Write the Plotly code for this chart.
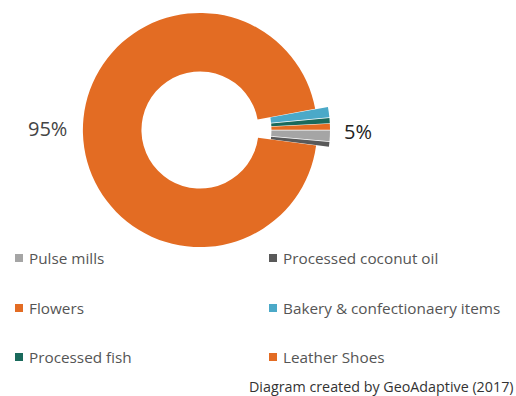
import plotly.graph_objects as go

# Sector shares (%) in slice order, clockwise starting near 3 o'clock
labels = ["Pulse mills", "Processed coconut oil", "Flowers",
          "Bakery & confectionaery items", "Processed fish", "Leather Shoes"]
values = [1.45, 0.65, 95.0, 1.4, 0.7, 0.8]
colors = ["#a5a5a5", "#595959", "#e36c23", "#4ba9c8", "#1a6a5c", "#e36c23"]
pulls = [0.11, 0.11, 0.0, 0.11, 0.11, 0.11]

big_label = "95%"
small_label = "5%"
source_note = "Diagram created by GeoAdaptive (2017)"

W, H = 516, 396
FONT = "Open Sans, Noto Sans, sans-serif"


def px_x(x):
    return x / W


def px_y(y):
    return 1 - y / H


fig = go.Figure()
fig.add_trace(go.Pie(
    labels=labels,
    values=values,
    sort=False,
    direction="clockwise",
    rotation=90,
    hole=0.5,
    pull=pulls,
    marker=dict(colors=colors, line=dict(width=0)),
    textinfo="none",
    hoverinfo="label+percent",
    showlegend=False,
    domain=dict(x=[px_x(200 - 130), px_x(200 + 130)], y=[px_y(260), 1.0]),
))

annotations = [
    dict(text=big_label, x=px_x(47), y=px_y(128), xref="paper", yref="paper",
         xanchor="center", yanchor="middle", showarrow=False,
         font=dict(family=FONT, size=20, color="#444444")),
    dict(text=small_label, x=px_x(358), y=px_y(131), xref="paper", yref="paper",
         xanchor="center", yanchor="middle", showarrow=False,
         font=dict(family=FONT, size=20, color="#222222")),
    dict(text=source_note, x=px_x(516), y=px_y(386), xref="paper", yref="paper",
         xanchor="right", yanchor="middle", showarrow=False,
         font=dict(family=FONT, size=14.3, color="#333333")),
]

# Two-column key under the ring, row-major in label order
shapes = []
col_x = [19, 273]
row_y = [258, 308, 357]
sq = 8
for i, (lab, col) in enumerate(zip(labels, colors)):
    cx = col_x[i % 2]
    cy = row_y[i // 2]
    shapes.append(dict(type="rect", xref="paper", yref="paper",
                       x0=px_x(cx - sq / 2), x1=px_x(cx + sq / 2),
                       y0=px_y(cy + sq / 2), y1=px_y(cy - sq / 2),
                       fillcolor=col, line=dict(width=0)))
    annotations.append(dict(text=lab, x=px_x(cx + 8), y=px_y(cy),
                            xref="paper", yref="paper",
                            xanchor="left", yanchor="middle",
                            showarrow=False,
                            font=dict(family=FONT, size=15.3, color="#555555")))

fig.update_layout(
    width=W, height=H,
    margin=dict(l=0, r=0, t=0, b=0),
    paper_bgcolor="white",
    plot_bgcolor="white",
    annotations=annotations,
    shapes=shapes,
)

fig.write_html("out.html")
